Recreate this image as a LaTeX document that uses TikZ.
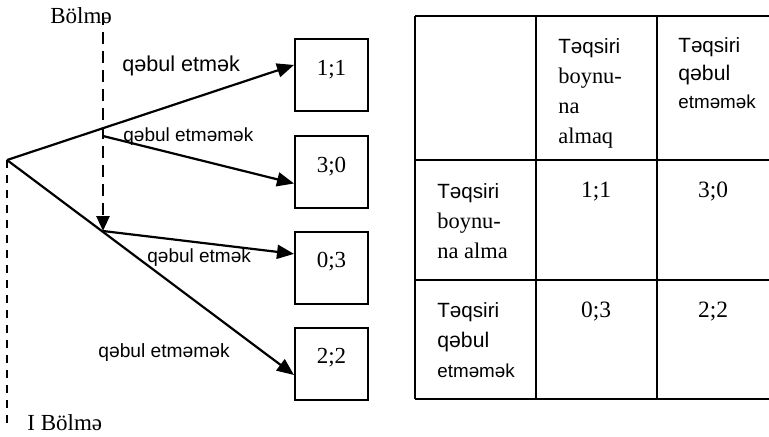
\documentclass[tikz,border=0pt]{standalone}
\usepackage{fontspec}
\setmainfont{Liberation Serif}
\newfontfamily\arialf{Liberation Sans}
\usepackage{tikz}
\usetikzlibrary{arrows,arrows.meta,positioning}
\tikzstyle{Pbox}=[shape=rectangle,draw=black,line width=1pt,minimum width=36.5pt,minimum height=36pt,inner sep=0pt,text height=8pt,text depth=8pt,font=\fontsize{11.5}{14}\selectfont]
\tikzstyle{move}=[-{Triangle[length=8.5pt,width=7pt]},line width=1.1pt]
\tikzstyle{stage}=[-{Triangle[length=7.5pt,width=6.5pt]},line width=1.3pt,dash pattern=on 6pt off 3.5pt]
\tikzstyle{lbl}=[font=\arialf\fontsize{9.5}{11}\selectfont,anchor=base west,inner sep=0pt]
\tikzstyle{cell}=[anchor=base west,inner sep=0pt,align=left,font=\fontsize{11.2}{15}\selectfont]
\tikzstyle{num}=[anchor=base,inner sep=0pt,font=\fontsize{11.7}{14}\selectfont]
\newcommand{\Tq}{{\arialf\fontsize{10.3}{15}\selectfont T\char"0259 qsiri}}
\newcommand{\Qb}{{\arialf\fontsize{10.6}{15}\selectfont q\char"0259 bul}}
\newcommand{\Et}{{\arialf\fontsize{9.4}{15}\selectfont etm\char"0259 m\char"0259 k}}

\begin{document}
\begin{tikzpicture}[x=0.5pt,y=-0.5pt]
\useasboundingbox (0,0) rectangle (769,436);

% game tree
\node[Pbox] (P11) at (331.5,75){1;1};
\node[Pbox] (P30) at (331.5,172){3;0};
\node[Pbox] (P03) at (331.5,267.5){0;3};
\node[Pbox] (P22) at (331.5,363.5){2;2};

\coordinate (ROOT) at (7,160);
\coordinate (A) at (103,128);
\coordinate (A1) at (103,136);
\coordinate (B) at (103,231);
\coordinate (TOP) at (103,13);
\coordinate (LOW) at (7,425);

\node[font=\fontsize{11.5}{14}\selectfont,anchor=base west,inner sep=0pt] (S2) at (50,23){Bölmə};
\node[font=\fontsize{11.5}{14}\selectfont,anchor=base west,inner sep=0pt] (S1) at (27,430){I Bölmə};

\draw[line width=0.8pt,dash pattern=on 4pt off 3.5pt] (ROOT) -- (LOW);
\draw[stage] (TOP) -- (B);
\draw[line width=1.1pt] (A) -- (A1);

 \path 

(ROOT) edge [move] (P11.165)
(ROOT) edge [move] (P22.197)
(A1) edge [move] (P30.197)
(B) edge [move] (P03.160);

\node[lbl,font=\arialf\fontsize{10.8}{12}\selectfont] (L1) at (122,71){qəbul etmək};
\node[lbl] (L2) at (123,141){qəbul etməmək};
\node[lbl] (L3) at (147,262){qəbul etmək};
\node[lbl,font=\arialf\fontsize{9.6}{11}\selectfont] (L4) at (98,357){qəbul etməmək};

% payoff table
\foreach \y in {16,160,280,399} \draw[line width=1pt] (415,\y) -- (769,\y);
\foreach \x in {415,536,657} \draw[line width=1pt] (\x,16) -- (\x,399);

% multi-line cells sit on the baseline of their last line
\node[cell] (H1) at (558,143){\Tq\\boynu-\\na\\almaq};
\node[cell,font=\fontsize{11.2}{14}\selectfont] (H2) at (678,108){\Tq\\\Qb\\\Et};
\node[cell] (R1) at (437,258){\Tq\\boynu-\\na alma};
\node[cell] (R2) at (437,377){\Tq\\\Qb\\\Et};

\node[num] (C11) at (596,197){1;1};
\node[num] (C30) at (713,197){3;0};
\node[num] (C03) at (596,317){0;3};
\node[num] (C22) at (713,317){2;2};

\end{tikzpicture}
\end{document}
